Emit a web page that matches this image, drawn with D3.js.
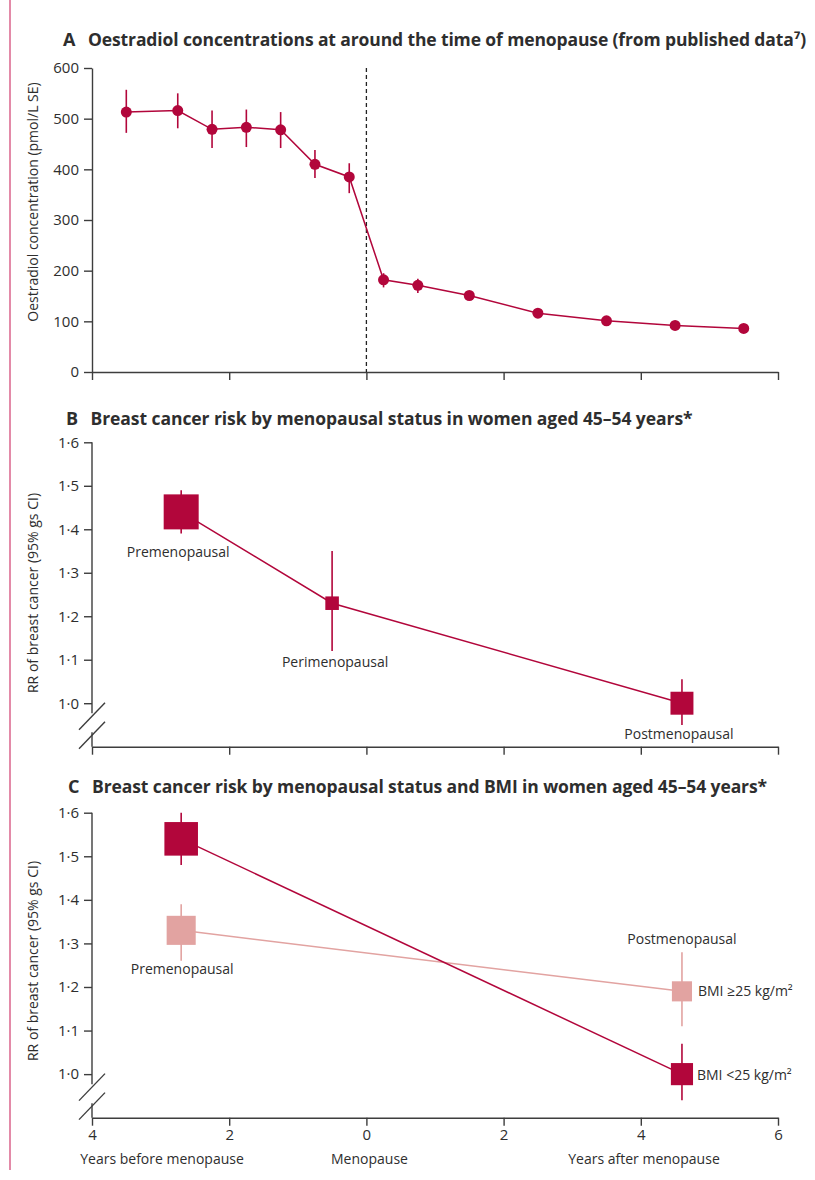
<!DOCTYPE html>
<html>
<head>
<meta charset="utf-8">
<script src="https://cdn.jsdelivr.net/npm/d3@7"></script>
<style>
  body { margin: 0; background: #fff; }
  text { font-family: "Open Sans", "Noto Sans", sans-serif; fill: #2e2e2e; }
</style>
</head>
<body>
<div id="chart"></div>
<script>
// Panel A: oestradiol by years relative to menopause
var yearsA = [-3.5, -2.75, -2.25, -1.75, -1.25, -0.75, -0.25, 0.25, 0.75, 1.5, 2.5, 3.5, 4.5, 5.5];
var oestradiol = [513, 516, 479, 483, 478, 410, 385, 182, 171, 151, 116, 101, 92, 86];
var seLow = [472, 481, 442, 444, 442, 383, 353, 167, 156, 145, 111, 96, 87, 81];
var seHigh = [557, 550, 516, 518, 513, 438, 412, 195, 184, 157, 121, 106, 97, 91];
var ticksA = [0, 100, 200, 300, 400, 500, 600];

// Panel B: RR by menopausal status
var statusB = ["Premenopausal", "Perimenopausal", "Postmenopausal"];
var yearsB = [-2.7, -0.5, 4.6];
var rrB = [1.44, 1.23, 1.0];
var lowB = [1.39, 1.12, 0.95];
var highB = [1.49, 1.35, 1.055];
var weightB = [1.0, 0.15, 0.43];

// Panel C: RR by menopausal status and BMI
var yearsC = [-2.7, 4.6];
var rrLean = [1.54, 1.0], lowLean = [1.48, 0.94], highLean = [1.6, 1.07], weightLean = [0.92, 0.40];
var rrOver = [1.33, 1.19], lowOver = [1.26, 1.11], highOver = [1.39, 1.28], weightOver = [0.69, 0.33];
var ticksRR = [1.0, 1.1, 1.2, 1.3, 1.4, 1.5, 1.6];
var ticksX = [-4, -2, 0, 2, 4, 6];

var dark = "#b2063b", light = "#e2a3a1", axisCol = "#3d3d3d";

var svg = d3.select("#chart").append("svg")
	.attr("width", 815)
	.attr("height", 1180);

svg.append("rect").attr("width", 815).attr("height", 1180).attr("fill", "#fff");
// pink rule down the left edge
svg.append("line").attr("x1", 10).attr("x2", 10).attr("y1", 0).attr("y2", 1170)
	.attr("stroke", "#e38aa8").attr("stroke-width", 2);

var x = d3.scaleLinear().domain([-4, 6]).range([92, 778]);
var yA = d3.scaleLinear().domain([0, 600]).range([372, 68]);
var yB = d3.scaleLinear().domain([0.9, 1.6]).range([746.7, 442.3]);
var yC = d3.scaleLinear().domain([0.9, 1.6]).range([1117.7, 812.7]);
var side = d3.scaleSqrt().domain([0, 1]).range([0, 35]);
var fmtRR = function(d) { return d3.format(".1f")(d).replace(".", "\u00b7"); };

function styleAxis(g) {
	g.selectAll("path, line").attr("stroke", axisCol).attr("stroke-width", 1.4);
	g.selectAll("text").style("font-size", "15px").attr("fill", "#333").style("font-family", '"Open Sans", sans-serif');
}

function xAxis(y0, labelled) {
	var g = svg.append("g")
		.attr("transform", "translate(0," + y0 + ")")
		.call(d3.axisBottom(x).tickValues(ticksX).tickSize(8).tickSizeOuter(0).tickPadding(4)
			.tickFormat(labelled ? function(d) { return Math.abs(d); } : ""));
	styleAxis(g);
}

// titles: tighten letter spacing so the line ends where the original does
function title(y, letter, txt, x0, len) {
	svg.append("text").attr("x", 63 + (letter == "A" ? 0 : letter == "B" ? 3 : 5)).attr("y", y)
		.style("font-size", "18px").style("font-weight", 700).attr("fill", "#222").text(letter);
	var t = svg.append("text").attr("x", x0).attr("y", y)
		.style("font-size", "17.5px").style("font-weight", 700).attr("fill", "#222")
		.text(txt);
	var natural = t.node().getComputedTextLength();
	t.style("letter-spacing", ((len - natural) / txt.length) + "px");
}

function yLabel(cy, txt) {
	svg.append("text")
		.attr("transform", "translate(38," + cy + ") rotate(-90)")
		.attr("text-anchor", "middle")
		.style("font-size", "14px")
		.text(txt);
}

function rrAxis(yS) {
	var g = svg.append("g").attr("transform", "translate(92,0)")
		.call(d3.axisLeft(yS).tickValues(ticksRR).tickSize(8).tickPadding(5).tickFormat(fmtRR));
	g.select(".domain").remove();
	styleAxis(g);
	var b1 = yS(1.0) + 10, b2 = yS(1.0) + 29;
	g.append("line").attr("x1", 0).attr("x2", 0).attr("y1", yS(1.6)).attr("y2", b1)
		.attr("stroke", axisCol).attr("stroke-width", 1.4);
	g.append("line").attr("x1", 0).attr("x2", 0).attr("y1", b2).attr("y2", yS.range()[0])
		.attr("stroke", axisCol).attr("stroke-width", 1.4);
	[b1 + 3, b2 + 3].forEach(function(b) {
		g.append("line").attr("x1", -13).attr("x2", 13).attr("y1", b + 13.5).attr("y2", b - 13.5)
			.attr("stroke", axisCol).attr("stroke-width", 1.4);
	});
}

// squares with CI whiskers
function forest(yS, xs, rr, lo, hi, wt, col) {
	var data = xs.map(function(d, i) { return {x: d, rr: rr[i], lo: lo[i], hi: hi[i], w: wt[i]}; });
	svg.append("path")
		.attr("d", d3.line().x(function(d) { return x(d.x); }).y(function(d) { return yS(d.rr); })(data))
		.attr("fill", "none").attr("stroke", col).attr("stroke-width", 1.5);
	svg.selectAll(null).data(data).enter().append("line")
		.attr("x1", function(d) { return x(d.x); }).attr("x2", function(d) { return x(d.x); })
		.attr("y1", function(d) { return yS(d.hi); }).attr("y2", function(d) { return yS(d.lo); })
		.attr("stroke", col).attr("stroke-width", 1.6);
	svg.selectAll(null).data(data).enter().append("rect")
		.attr("x", function(d) { return x(d.x) - side(d.w) / 2; })
		.attr("y", function(d) { return yS(d.rr) - side(d.w) / 2; })
		.attr("width", function(d) { return side(d.w); })
		.attr("height", function(d) { return side(d.w); })
		.attr("fill", col);
}

function note(px, py, txt, anchor) {
	svg.append("text").attr("x", px).attr("y", py).attr("text-anchor", anchor || "middle")
		.style("font-size", "14px").text(txt);
}

// ---------- Panel A ----------
title(46, "A", "Oestradiol concentrations at around the time of menopause (from published data\u2077)", 88, 718);
yLabel(202, "Oestradiol concentration (pmol/L SE)");

var gA = svg.append("g").attr("transform", "translate(92,0)")
	.call(d3.axisLeft(yA).tickValues(ticksA).tickSize(8).tickSizeOuter(0).tickPadding(5));
styleAxis(gA);
xAxis(372, false);

svg.append("line").attr("x1", x(0)).attr("x2", x(0)).attr("y1", yA(600)).attr("y2", yA(0))
	.attr("stroke", "#222").attr("stroke-width", 1.3).attr("stroke-dasharray", "4,3");

var dataA = yearsA.map(function(d, i) { return {x: d, v: oestradiol[i], lo: seLow[i], hi: seHigh[i]}; });
svg.append("path")
	.attr("d", d3.line().x(function(d) { return x(d.x); }).y(function(d) { return yA(d.v); })(dataA))
	.attr("fill", "none").attr("stroke", dark).attr("stroke-width", 1.5);
svg.selectAll(null).data(dataA).enter().append("line")
	.attr("x1", function(d) { return x(d.x); }).attr("x2", function(d) { return x(d.x); })
	.attr("y1", function(d) { return yA(d.hi); }).attr("y2", function(d) { return yA(d.lo); })
	.attr("stroke", dark).attr("stroke-width", 1.6);
svg.selectAll(null).data(dataA).enter().append("circle")
	.attr("cx", function(d) { return x(d.x); }).attr("cy", function(d) { return yA(d.v); })
	.attr("r", 5.5).attr("fill", dark);

// ---------- Panel B ----------
title(425, "B", "Breast cancer risk by menopausal status in women aged 45\u201354 years*", 90.5, 602);
yLabel(593, "RR of breast cancer (95% gs CI)");
rrAxis(yB);
xAxis(746.7, false);
forest(yB, yearsB, rrB, lowB, highB, weightB, dark);
note(x(yearsB[0]) - 3, yB(rrB[0]) + 45, statusB[0]);
note(x(yearsB[1]) + 3, yB(rrB[1]) + 64, statusB[1]);
note(x(yearsB[2]) - 3, yB(rrB[2]) + 36, statusB[2]);

// ---------- Panel C ----------
title(793, "C", "Breast cancer risk by menopausal status and BMI in women aged 45\u201354 years*", 92, 675);
yLabel(961, "RR of breast cancer (95% gs CI)");
rrAxis(yC);
xAxis(1117.7, true);
forest(yC, yearsC, rrOver, lowOver, highOver, weightOver, light);
forest(yC, yearsC, rrLean, lowLean, highLean, weightLean, dark);
note(x(yearsC[0]) + 1, yC(rrOver[0]) + 44, "Premenopausal");
note(x(yearsC[1]), yC(rrOver[1]) - 47, "Postmenopausal");
note(x(yearsC[1]) + 16, yC(rrOver[1]) + 5, "BMI \u226525 kg/m\u00b2", "start");
note(x(yearsC[1]) + 15, yC(rrLean[1]) + 6, "BMI <25 kg/m\u00b2", "start");

note(162, 1164, "Years before menopause");
note(369.5, 1164, "Menopause");
note(644, 1164, "Years after menopause");
</script>
</body>
</html>
